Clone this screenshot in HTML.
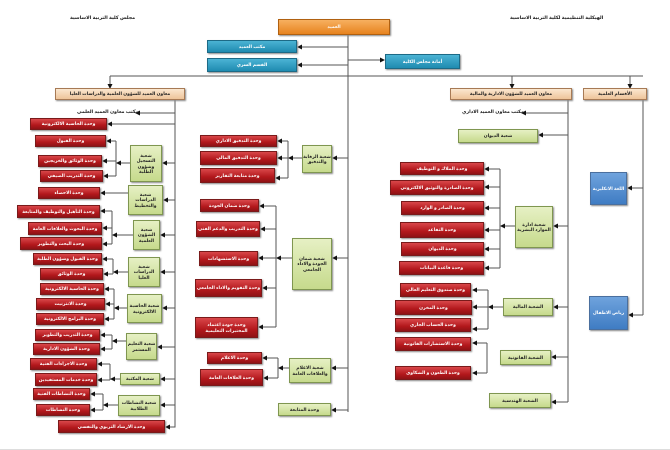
<!DOCTYPE html>
<html><head><meta charset="utf-8">
<style>
html,body{margin:0;padding:0;background:#fff;}
#c{position:relative;width:670px;height:450px;overflow:hidden;background:#fff;border-bottom:1px solid #ddd;box-sizing:border-box;}
.b{position:absolute;display:flex;align-items:center;justify-content:center;text-align:center;font-family:"Liberation Sans","Noto Sans CJK SC","DejaVu Sans",sans-serif;font-weight:bold;font-size:4.5px;line-height:5.5px;direction:rtl;box-sizing:border-box;box-shadow:1px 1px 1.5px #888;overflow:hidden;}
.r{background:linear-gradient(#d9474a,#b3181c 60%,#8f1215);border:1px solid #7a1a1a;color:#fff;white-space:nowrap;}
.g{background:linear-gradient(#e6f0c4,#c6da8c);border:1px solid #7f9650;color:#222;}
.bl{background:linear-gradient(#4bb3d4,#1f8bb0);border:1px solid #1d6a86;color:#fff;}
.bb{background:linear-gradient(#6fa3dd,#3f7cc3);border:1px solid #4a6f9e;color:#fff;}
.o{background:linear-gradient(#f7b060,#e7831f);border:1px solid #b06010;color:#fff;}
.t{background:linear-gradient(#fbe7d0,#eec49a);border:1px solid #a77a55;color:#222;white-space:nowrap;}
.tx{position:absolute;font-family:"Liberation Sans","DejaVu Sans",sans-serif;font-weight:bold;font-size:4.8px;color:#222;direction:rtl;white-space:nowrap;}
svg{position:absolute;left:0;top:0;}
</style></head><body><div id="c">
<svg width="670" height="450" viewBox="0 0 670 450">
<defs><marker id="a" markerWidth="5" markerHeight="5" refX="4" refY="2.5" orient="auto" markerUnits="userSpaceOnUse"><path d="M0,0 L5,2.5 L0,5 z" fill="#111"/></marker></defs>
<g stroke="#555" stroke-width="1" fill="none">
<path d="M348 35 V412"/>
<path d="M348 47 H298" marker-end="url(#a)"/>
<path d="M348 65 H298" marker-end="url(#a)"/>
<path d="M348 60 H384" marker-end="url(#a)"/>
<path d="M110 76 H643"/>
<path d="M110 76 V88" marker-end="url(#a)"/>
<path d="M512 76 V88" marker-end="url(#a)"/>
<path d="M630 76 V88" marker-end="url(#a)"/>
<path d="M175 100 V427 H166" marker-end="url(#a)"/>
<path d="M175 113 H136" marker-end="url(#a)"/>
<path d="M175 124 H108" marker-end="url(#a)"/>
<path d="M175 163 H163" marker-end="url(#a)"/>
<path d="M175 200 H164" marker-end="url(#a)"/>
<path d="M175 235 H161" marker-end="url(#a)"/>
<path d="M175 272 H161" marker-end="url(#a)"/>
<path d="M175 308 H163" marker-end="url(#a)"/>
<path d="M175 347 H158" marker-end="url(#a)"/>
<path d="M175 379 H161" marker-end="url(#a)"/>
<path d="M175 405 H161" marker-end="url(#a)"/>
<path d="M130 163 H117" marker-end="url(#a)"/>
<path d="M116 141 V176"/>
<path d="M116 141 H107" marker-end="url(#a)"/>
<path d="M116 161 H103" marker-end="url(#a)"/>
<path d="M116 176 H104" marker-end="url(#a)"/>
<path d="M128 193 H101" marker-end="url(#a)"/>
<path d="M133 235 H113" marker-end="url(#a)"/>
<path d="M112 211 V244"/>
<path d="M112 211 H101" marker-end="url(#a)"/>
<path d="M112 228 H103" marker-end="url(#a)"/>
<path d="M112 244 H103" marker-end="url(#a)"/>
<path d="M128 272 H114" marker-end="url(#a)"/>
<path d="M113 259 V274"/>
<path d="M113 259 H103" marker-end="url(#a)"/>
<path d="M113 274 H104" marker-end="url(#a)"/>
<path d="M127 308 H115" marker-end="url(#a)"/>
<path d="M114 289 V319"/>
<path d="M114 289 H105" marker-end="url(#a)"/>
<path d="M114 304 H106" marker-end="url(#a)"/>
<path d="M114 319 H105" marker-end="url(#a)"/>
<path d="M126 341 H113" marker-end="url(#a)"/>
<path d="M112 335 V349"/>
<path d="M112 335 H101" marker-end="url(#a)"/>
<path d="M112 349 H101" marker-end="url(#a)"/>
<path d="M120 379 H111" marker-end="url(#a)"/>
<path d="M110 364 V380"/>
<path d="M110 364 H98" marker-end="url(#a)"/>
<path d="M110 380 H98" marker-end="url(#a)"/>
<path d="M118 405 H104" marker-end="url(#a)"/>
<path d="M103 394 V410"/>
<path d="M103 394 H91" marker-end="url(#a)"/>
<path d="M103 410 H91" marker-end="url(#a)"/>
<path d="M348 158 H333" marker-end="url(#a)"/>
<path d="M348 258 H333" marker-end="url(#a)"/>
<path d="M348 368 H332" marker-end="url(#a)"/>
<path d="M348 410 H332" marker-end="url(#a)"/>
<path d="M302 158 H289" marker-end="url(#a)"/>
<path d="M288 141 V178"/>
<path d="M288 141 H278" marker-end="url(#a)"/>
<path d="M288 158 H278" marker-end="url(#a)"/>
<path d="M288 178 H276" marker-end="url(#a)"/>
<path d="M292 258 H277" marker-end="url(#a)"/>
<path d="M276 206 V327"/>
<path d="M276 206 H260" marker-end="url(#a)"/>
<path d="M276 229 H261" marker-end="url(#a)"/>
<path d="M276 258 H259" marker-end="url(#a)"/>
<path d="M276 288 H263" marker-end="url(#a)"/>
<path d="M276 327 H259" marker-end="url(#a)"/>
<path d="M289 368 H279" marker-end="url(#a)"/>
<path d="M278 358 V378"/>
<path d="M278 358 H263" marker-end="url(#a)"/>
<path d="M278 378 H264" marker-end="url(#a)"/>
<path d="M568 100 V402"/>
<path d="M568 113 H522" marker-end="url(#a)"/>
<path d="M568 135 H539" marker-end="url(#a)"/>
<path d="M568 226 H554" marker-end="url(#a)"/>
<path d="M568 307 H554" marker-end="url(#a)"/>
<path d="M568 357 H552" marker-end="url(#a)"/>
<path d="M568 402 H552" marker-end="url(#a)"/>
<path d="M515 226 H501" marker-end="url(#a)"/>
<path d="M500 169 V268"/>
<path d="M500 169 H485" marker-end="url(#a)"/>
<path d="M500 187 H485" marker-end="url(#a)"/>
<path d="M500 208 H485" marker-end="url(#a)"/>
<path d="M500 230 H485" marker-end="url(#a)"/>
<path d="M500 249 H485" marker-end="url(#a)"/>
<path d="M500 268 H485" marker-end="url(#a)"/>
<path d="M503 307 H489" marker-end="url(#a)"/>
<path d="M488 290 V329"/>
<path d="M488 290 H473" marker-end="url(#a)"/>
<path d="M488 307 H473" marker-end="url(#a)"/>
<path d="M488 329 H473" marker-end="url(#a)"/>
<path d="M487 343 V373"/>
<path d="M487 343 H473" marker-end="url(#a)"/>
<path d="M487 373 H473" marker-end="url(#a)"/>
<path d="M643 100 V315"/>
<path d="M643 188 H628" marker-end="url(#a)"/>
<path d="M643 315 H629" marker-end="url(#a)"/>
</g>
</svg>

<div class="tx" style="left:70px;top:16px;">مجلس كلية التربية الاساسية</div>
<div class="tx" style="left:510px;top:16px;">الهيكلية التنظيمية لكلية التربية الاساسية</div>

<div class="b o" style="left:278px;top:19px;width:112px;height:16px;">العميد</div>
<div class="b bl" style="left:207px;top:40px;width:90px;height:13px;">مكتب العميد</div>
<div class="b bl" style="left:207px;top:58px;width:90px;height:14px;">القسم السري</div>
<div class="b bl" style="left:385px;top:54px;width:75px;height:15px;">أمانة مجلس الكلية</div>

<div class="b t" style="left:55px;top:88px;width:130px;height:12px;">معاون العميد للشؤون العلمية والدراسات العليا</div>
<div class="b t" style="left:450px;top:88px;width:122px;height:12px;">معاون العميد للشؤون الادارية والمالية</div>
<div class="b t" style="left:583px;top:88px;width:64px;height:12px;">الأقسام العلمية</div>

<div class="tx" style="left:77px;top:110px;">مكتب معاون العميد العلمي</div>
<div class="b r" style="left:30px;top:118px;width:77px;height:12px;">وحدة الحاسبة الالكترونية</div>
<div class="b r" style="left:35px;top:135px;width:71px;height:12px;">وحدة القبول</div>
<div class="b r" style="left:38px;top:155px;width:64px;height:12px;">وحدة الوثائق والخريجين</div>
<div class="b r" style="left:40px;top:170px;width:63px;height:12px;">وحدة التدريب الصيفي</div>
<div class="b r" style="left:38px;top:187px;width:62px;height:12px;">وحدة الاحصاء</div>
<div class="b r" style="left:17px;top:205px;width:83px;height:13px;">وحدة التأهيل والتوظيف والمتابعة</div>
<div class="b r" style="left:28px;top:222px;width:74px;height:13px;">وحدة البحوث والعلاقات العامة</div>
<div class="b r" style="left:20px;top:237px;width:82px;height:13px;">وحدة البحث والتطوير</div>
<div class="b r" style="left:33px;top:253px;width:69px;height:12px;">وحدة القبول وشؤون الطلبة</div>
<div class="b r" style="left:40px;top:268px;width:63px;height:12px;">وحدة الوثائق</div>
<div class="b r" style="left:40px;top:283px;width:64px;height:12px;">وحدة الحاسبة الالكترونية</div>
<div class="b r" style="left:36px;top:298px;width:69px;height:12px;">وحدة الانترنيت</div>
<div class="b r" style="left:36px;top:313px;width:68px;height:12px;">وحدة البرامج الالكترونية</div>
<div class="b r" style="left:35px;top:329px;width:65px;height:12px;">وحدة التدريب والتطوير</div>
<div class="b r" style="left:33px;top:343px;width:67px;height:12px;">وحدة الشؤون الادارية</div>
<div class="b r" style="left:30px;top:358px;width:67px;height:12px;">وحدة الاجراءات الفنية</div>
<div class="b r" style="left:35px;top:373px;width:62px;height:13px;">وحدة خدمات المستفيدين</div>
<div class="b r" style="left:33px;top:388px;width:57px;height:12px;">وحدة النشاطات الفنية</div>
<div class="b r" style="left:36px;top:404px;width:54px;height:12px;">وحدة النشاطات</div>
<div class="b r" style="left:58px;top:420px;width:107px;height:13px;">وحدة الارشاد التربوي والنفسي</div>

<div class="b g" style="left:130px;top:145px;width:32px;height:37px;">شعبة التسجيل وشؤون الطلبة</div>
<div class="b g" style="left:128px;top:185px;width:35px;height:30px;">شعبة الدراسات والتخطيط</div>
<div class="b g" style="left:133px;top:220px;width:27px;height:30px;">شعبة الشؤون العلمية</div>
<div class="b g" style="left:128px;top:257px;width:32px;height:30px;">شعبة الدراسات العليا</div>
<div class="b g" style="left:127px;top:294px;width:35px;height:29px;">شعبة الحاسبة الالكترونية</div>
<div class="b g" style="left:126px;top:333px;width:31px;height:27px;">شعبة التعليم المستمر</div>
<div class="b g" style="left:120px;top:373px;width:40px;height:12px;">شعبة المكتبة</div>
<div class="b g" style="left:118px;top:395px;width:42px;height:21px;">شعبة النشاطات الطلابية</div>

<div class="b r" style="left:200px;top:135px;width:77px;height:12px;">وحدة التدقيق الاداري</div>
<div class="b r" style="left:200px;top:151px;width:77px;height:14px;">وحدة التدقيق المالي</div>
<div class="b r" style="left:200px;top:168px;width:75px;height:15px;">وحدة متابعة التقارير</div>
<div class="b g" style="left:302px;top:145px;width:30px;height:28px;">شعبة الرقابة والتدقيق</div>
<div class="b r" style="left:200px;top:199px;width:59px;height:13px;">وحدة ضمان الجودة</div>
<div class="b r" style="left:196px;top:221px;width:64px;height:16px;">وحدة التدريب والدعم الفني</div>
<div class="b r" style="left:199px;top:251px;width:59px;height:15px;">وحدة الاستشهادات</div>
<div class="b r" style="left:195px;top:279px;width:67px;height:18px;">وحدة التقويم والاداء الجامعي</div>
<div class="b r" style="left:195px;top:317px;width:63px;height:21px;white-space:normal;">وحدة جودة اعتماد المختبرات التعليمية</div>
<div class="b g" style="left:292px;top:238px;width:40px;height:52px;">شعبة ضمان الجودة والاداء الجامعي</div>
<div class="b r" style="left:207px;top:352px;width:55px;height:12px;">وحدة الاعلام</div>
<div class="b r" style="left:200px;top:369px;width:63px;height:17px;">وحدة العلاقات العامة</div>
<div class="b g" style="left:289px;top:358px;width:42px;height:25px;">شعبة الاعلام والعلاقات العامة</div>
<div class="b g" style="left:278px;top:403px;width:53px;height:13px;">وحدة المتابعة</div>

<div class="tx" style="left:462px;top:110px;">مكتب معاون العميد الاداري</div>
<div class="b g" style="left:458px;top:129px;width:80px;height:14px;">شعبة الديوان</div>
<div class="b r" style="left:400px;top:162px;width:84px;height:13px;">وحدة الملاك و التوظيف</div>
<div class="b r" style="left:390px;top:180px;width:94px;height:15px;">وحدة الصادرة والتوثيق الالكتروني</div>
<div class="b r" style="left:401px;top:201px;width:83px;height:14px;">وحدة الصادر و الوارد</div>
<div class="b r" style="left:400px;top:222px;width:84px;height:16px;">وحدة التقاعد</div>
<div class="b r" style="left:401px;top:242px;width:83px;height:14px;">وحدة الديوان</div>
<div class="b r" style="left:399px;top:261px;width:85px;height:14px;">وحدة قاعدة البيانات</div>
<div class="b g" style="left:515px;top:206px;width:38px;height:42px;">شعبة ادارة الموارد البشرية</div>
<div class="b r" style="left:400px;top:283px;width:71px;height:14px;">وحدة صندوق التعليم العالي</div>
<div class="b r" style="left:395px;top:300px;width:77px;height:15px;">وحدة المخزن</div>
<div class="b r" style="left:395px;top:318px;width:76px;height:14px;">وحدة الحساب الجاري</div>
<div class="b g" style="left:503px;top:298px;width:50px;height:18px;">الشعبة المالية</div>
<div class="b r" style="left:395px;top:337px;width:76px;height:14px;">وحدة الاستشارات القانونية</div>
<div class="b r" style="left:395px;top:366px;width:76px;height:14px;">وحدة الطعون و الشكاوى</div>
<div class="b g" style="left:500px;top:350px;width:51px;height:15px;">الشعبة القانونية</div>
<div class="b g" style="left:489px;top:393px;width:62px;height:15px;">الشعبة الهندسية</div>
<div class="b bb" style="left:590px;top:172px;width:37px;height:33px;">اللغة الانكليزية</div>
<div class="b bb" style="left:589px;top:296px;width:39px;height:34px;">رياض الاطفال</div>
</div></body></html>
